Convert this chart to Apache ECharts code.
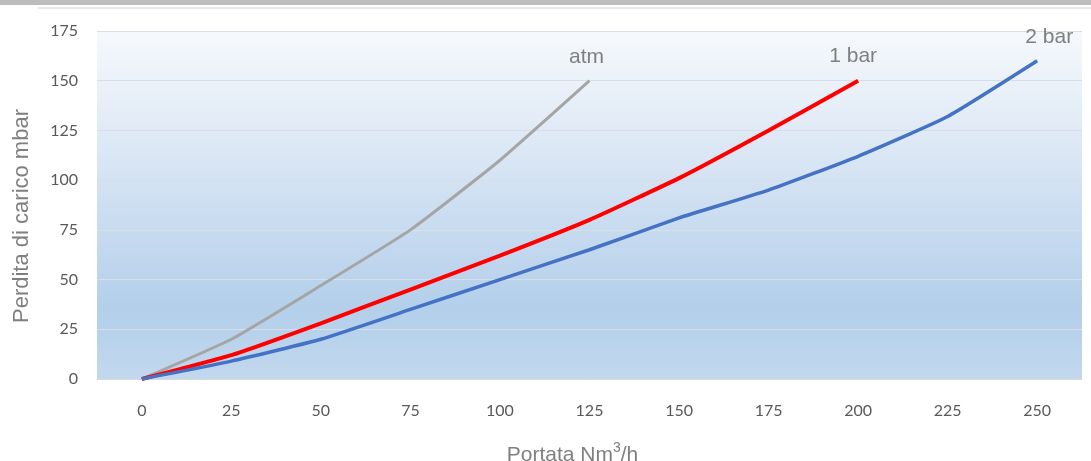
<!DOCTYPE html>
<html>
<head>
<meta charset="utf-8">
<script src="https://cdn.jsdelivr.net/npm/echarts@6/dist/echarts.min.js"></script>
<style>
html,body{margin:0;padding:0;background:#fff;}
#chart{width:1091px;height:461px;}
</style>
</head>
<body>
<div id="chart"></div>
<script>
const categories = ['0','25','50','75','100','125','150','175','200','225','250'];
const atmValues  = [0, 20, 47, 75, 110, 150];
const bar1Values = [0, 12, 28, 45, 62, 80, 101, 125, 150];
const bar2Values = [0, 9, 20, 35, 50, 65, 81, 95, 112, 132, 160];
const yTicks = [0, 25, 50, 75, 100, 125, 150, 175];

function withEndLabel(vals, name, labelOpts) {
  return vals.map((v, i) => i === vals.length - 1
    ? { value: v, label: Object.assign({ show: true, formatter: name, position: 'top',
        fontFamily: 'Liberation Sans', fontSize: 21, color: '#7f7f7f' }, labelOpts) }
    : v);
}

const chart = echarts.init(document.getElementById('chart'));
chart.setOption({
  animation: false,
  backgroundColor: '#ffffff',
  graphic: [
    { type: 'rect', left: 0, top: 0, shape: { width: 1091, height: 5 }, style: { fill: '#bdbdbd' }, silent: true },
    { type: 'rect', left: 38, top: 7, shape: { width: 1053, height: 2 }, style: { fill: '#e9e9e9' }, silent: true }
  ],
  grid: {
    left: 97, right: 9, top: 31, bottom: 82,
    outerBoundsMode: 'none',
    containLabel: false,
    show: true, borderWidth: 0,
    backgroundColor: {
      type: 'linear', x: 0, y: 0, x2: 0, y2: 1,
      colorStops: [
        { offset: 0, color: '#f6f9fc' },
        { offset: 0.25, color: '#e3ecf7' },
        { offset: 0.55, color: '#c9dcf0' },
        { offset: 0.8, color: '#b3cfea' },
        { offset: 1, color: '#c2d8ee' }
      ]
    }
  },
  xAxis: {
    type: 'category',
    data: categories,
    boundaryGap: true,
    name: '{a|Portata Nm}{s|3}{a|/h}',
    nameLocation: 'middle',
    nameGap: 62,
    nameTextStyle: {
      fontFamily: 'Liberation Sans', fontSize: 21, color: '#7f7f7f',
      padding: [0, 34, 0, 0],
      rich: {
        a: { fontFamily: 'Liberation Sans', fontSize: 21, color: '#7f7f7f' },
        s: { fontFamily: 'Liberation Sans', fontSize: 14, color: '#7f7f7f', padding: [0, 0, 14, 0] }
      }
    },
    axisLine: { show: true, lineStyle: { color: '#d9d9d9' } },
    axisTick: { show: false },
    axisLabel: { margin: 24, fontFamily: 'Lato', fontSize: 16, color: '#595959' },
    splitLine: { show: false }
  },
  yAxis: {
    type: 'value',
    min: 0, max: 175, interval: 25,
    name: 'Perdita di carico mbar',
    nameLocation: 'middle',
    nameGap: 64,
    nameTextStyle: { fontFamily: 'Liberation Sans', fontSize: 22, color: '#7f7f7f', padding: [0, 22, 0, 0] },
    axisLine: { show: false },
    axisTick: { show: false },
    axisLabel: { margin: 19, fontFamily: 'Lato', fontSize: 16, color: '#595959',
      formatter: v => yTicks.includes(v) ? String(v) : '' },
    splitLine: { show: true, lineStyle: { color: '#d8dee6', width: 1 } }
  },
  series: [
    {
      name: 'atm', type: 'line', smooth: 0.15, symbol: 'circle', symbolSize: 0, showSymbol: true,
      lineStyle: { color: '#a5a5a5', width: 3 }, itemStyle: { color: '#a5a5a5' },
      data: withEndLabel(atmValues, 'atm', { distance: 13, offset: [-3, 0] })
    },
    {
      name: '1 bar', type: 'line', smooth: 0.15, symbol: 'circle', symbolSize: 0, showSymbol: true,
      lineStyle: { color: '#ff0000', width: 4 }, itemStyle: { color: '#ff0000' },
      data: withEndLabel(bar1Values, '1 bar', { distance: 14, offset: [-5, 0] })
    },
    {
      name: '2 bar', type: 'line', smooth: 0.15, symbol: 'circle', symbolSize: 0, showSymbol: true,
      lineStyle: { color: '#4472c4', width: 3.5 }, itemStyle: { color: '#4472c4' },
      data: withEndLabel(bar2Values, '2 bar', { distance: 13, offset: [12, 0] })
    }
  ]
});
</script>
</body>
</html>
